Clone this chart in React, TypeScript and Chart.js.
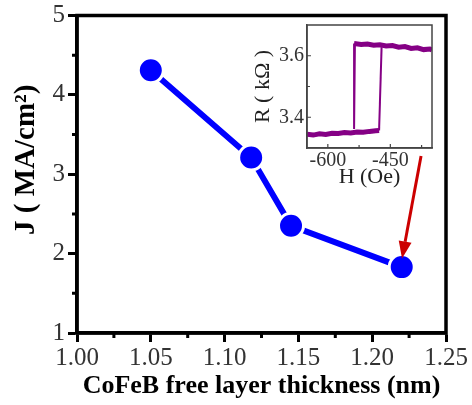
import React, { useEffect, useRef } from 'react';
import { Chart, registerables } from 'chart.js';

Chart.register(...registerables);

// ---- main chart data ----
const thickness = [1.05, 1.118, 1.145, 1.22];
const currentDensity = [4.31, 3.21, 2.35, 1.83];
const xTickValues = [1.0, 1.05, 1.1, 1.15, 1.2, 1.25];
const xMinorValues = [1.025, 1.075, 1.125, 1.175, 1.225];
const yTickValues = [1, 2, 3, 4, 5];
const yMinorValues = [1.5, 2.5, 3.5, 4.5];
const arrowFrom = [1.2331, 3.23];
const arrowTo = [1.2202, 1.94];

// ---- inset (hysteresis loop) data ----
const lowBranchH = [-650, -635, -620, -605, -590, -575, -560, -545, -530, -515, -500, -485, -477];
const lowBranchR = [3.345, 3.342, 3.346, 3.344, 3.348, 3.347, 3.35, 3.349, 3.352, 3.351, 3.354, 3.356, 3.357];
const highBranchH = [-537, -520, -505, -490, -475, -460, -445, -430, -415, -400, -385, -370, -355, -350];
const highBranchR = [3.64, 3.637, 3.638, 3.634, 3.636, 3.632, 3.633, 3.628, 3.63, 3.624, 3.626, 3.62, 3.622, 3.619];
const switchUpH = [-477, -471];
const switchUpR = [3.357, 3.628];
const switchDownH = [-535, -537];
const switchDownR = [3.64, 3.362];
const insetXTicks = [-600, -450];
const insetXMinor = [-525, -375];
const insetYTicks = [3.4, 3.6];
const insetYMinor = [3.5];

const SERIF = "'Liberation Serif', 'DejaVu Serif', serif";
const PURPLE = '#850085';

const pts = (xs: number[], ys: number[]) => xs.map((x, i) => ({ x, y: ys[i] }));

const framePlugin = (color: string, width: number) => ({
  id: 'frame',
  afterDatasetsDraw(chart: any) {
    const { ctx, chartArea: a } = chart;
    ctx.save();
    ctx.strokeStyle = color;
    ctx.lineWidth = width;
    ctx.strokeRect(a.left, a.top, a.right - a.left, a.bottom - a.top);
    ctx.restore();
  },
});

// minor ticks pointing outward (main chart)
const mainMinorTicks = {
  id: 'mainMinor',
  afterDatasetsDraw(chart: any) {
    const { ctx, chartArea: a, scales } = chart;
    ctx.save();
    ctx.strokeStyle = '#000';
    ctx.lineWidth = 3;
    ctx.beginPath();
    xMinorValues.forEach((v) => {
      const px = scales.x.getPixelForValue(v);
      ctx.moveTo(px, a.bottom);
      ctx.lineTo(px, a.bottom + 5);
    });
    yMinorValues.forEach((v) => {
      const py = scales.y.getPixelForValue(v);
      ctx.moveTo(a.left, py);
      ctx.lineTo(a.left - 5, py);
    });
    ctx.stroke();
    ctx.restore();
  },
};

const arrowPlugin = {
  id: 'arrow',
  afterDatasetsDraw(chart: any) {
    const { ctx, scales } = chart;
    const x0 = scales.x.getPixelForValue(arrowFrom[0]);
    const y0 = scales.y.getPixelForValue(arrowFrom[1]);
    const x1 = scales.x.getPixelForValue(arrowTo[0]);
    const y1 = scales.y.getPixelForValue(arrowTo[1]);
    const ang = Math.atan2(y1 - y0, x1 - x0);
    const headLen = 17;
    const headHalf = 6.5;
    const bx = x1 - headLen * Math.cos(ang);
    const by = y1 - headLen * Math.sin(ang);
    ctx.save();
    ctx.strokeStyle = '#cc0000';
    ctx.fillStyle = '#cc0000';
    ctx.lineWidth = 3;
    ctx.beginPath();
    ctx.moveTo(x0, y0);
    ctx.lineTo(bx, by);
    ctx.stroke();
    ctx.beginPath();
    ctx.moveTo(x1, y1);
    ctx.lineTo(bx + headHalf * Math.sin(ang), by - headHalf * Math.cos(ang));
    ctx.lineTo(bx - headHalf * Math.sin(ang), by + headHalf * Math.cos(ang));
    ctx.closePath();
    ctx.fill();
    ctx.restore();
  },
};

// inward ticks for the inset
const insetTicks = {
  id: 'insetTicks',
  afterDatasetsDraw(chart: any) {
    const { ctx, chartArea: a, scales } = chart;
    ctx.save();
    ctx.strokeStyle = '#444';
    ctx.lineWidth = 1.2;
    ctx.beginPath();
    const xt = (v: number, len: number) => {
      const px = scales.x.getPixelForValue(v);
      ctx.moveTo(px, a.bottom);
      ctx.lineTo(px, a.bottom - len);
    };
    const yt = (v: number, len: number) => {
      const py = scales.y.getPixelForValue(v);
      ctx.moveTo(a.left, py);
      ctx.lineTo(a.left + len, py);
    };
    insetXTicks.forEach((v) => xt(v, 4));
    insetXMinor.forEach((v) => xt(v, 3));
    insetYTicks.forEach((v) => yt(v, 4));
    insetYMinor.forEach((v) => yt(v, 3));
    ctx.stroke();
    ctx.restore();
  },
};

export default function App() {
  const mainRef = useRef<HTMLCanvasElement>(null);
  const insetRef = useRef<HTMLCanvasElement>(null);

  useEffect(() => {
    const main = new Chart(mainRef.current as HTMLCanvasElement, {
      type: 'line',
      data: {
        datasets: [
          {
            data: pts(thickness, currentDensity),
            borderColor: '#0000ff',
            backgroundColor: '#0000ff',
            borderWidth: 6,
            pointRadius: 12.5,
            pointBackgroundColor: '#0000ff',
            pointBorderColor: '#ffffff',
            pointBorderWidth: 3,
            tension: 0,
            clip: false as any,
          },
        ],
      },
      options: {
        animation: false,
        responsive: false,
        events: [],
        layout: { padding: { top: 14, right: 26, left: 0, bottom: 0 } },
        plugins: { legend: { display: false }, tooltip: { enabled: false } },
        scales: {
          x: {
            type: 'linear',
            min: 1.0,
            max: 1.25,
            afterBuildTicks: (s: any) => {
              s.ticks = xTickValues.map((v) => ({ value: v }));
            },
            afterFit: (s: any) => {
              s.height = 72;
            },
            ticks: {
              callback: (v: any) => Number(v).toFixed(2),
              font: { family: SERIF, size: 25 },
              color: '#333',
              padding: 1,
              maxRotation: 0,
              autoSkip: false,
            },
            grid: { drawOnChartArea: false, drawTicks: true, tickLength: 9, tickWidth: 3, tickColor: '#000' },
            border: { display: true, width: 3.5, color: '#000' },
            title: {
              display: true,
              text: 'CoFeB free layer thickness (nm)',
              font: { family: SERIF, size: 26, weight: 'bold' },
              color: '#000',
              padding: { top: 0, bottom: 3 },
            },
          },
          y: {
            type: 'linear',
            min: 1,
            max: 5,
            afterBuildTicks: (s: any) => {
              s.ticks = yTickValues.map((v) => ({ value: v }));
            },
            afterFit: (s: any) => {
              s.width = 77;
            },
            ticks: {
              callback: (v: any) => String(v),
              font: { family: SERIF, size: 25, lineHeight: 0.8 },
              color: '#333',
              padding: 3,
            },
            grid: { drawOnChartArea: false, drawTicks: true, tickLength: 9, tickWidth: 3, tickColor: '#000' },
            border: { display: true, width: 3.5, color: '#000' },
            title: {
              display: true,
              text: '    J ( MA/cm²)',
              font: { family: SERIF, size: 29, weight: 'bold' },
              color: '#000',
              padding: { top: 9, bottom: 0 },
            },
          },
        },
      },
      plugins: [framePlugin('#000', 3.5), mainMinorTicks, arrowPlugin],
    } as any);

    const lineDs = (xs: number[], ys: number[], w: number) => ({
      data: pts(xs, ys),
      borderColor: PURPLE,
      backgroundColor: PURPLE,
      borderWidth: w,
      pointRadius: 0,
      tension: 0,
    });

    const inset = new Chart(insetRef.current as HTMLCanvasElement, {
      type: 'line',
      data: {
        datasets: [
          lineDs(lowBranchH, lowBranchR, 5),
          lineDs(highBranchH, highBranchR, 5),
          lineDs(switchUpH, switchUpR, 2),
          lineDs(switchDownH, switchDownR, 2),
        ],
      },
      options: {
        animation: false,
        responsive: false,
        events: [],
        layout: { padding: { top: 14, right: 10, left: 0, bottom: 0 } },
        plugins: { legend: { display: false }, tooltip: { enabled: false } },
        scales: {
          x: {
            type: 'linear',
            min: -650,
            max: -350,
            afterBuildTicks: (s: any) => {
              s.ticks = insetXTicks.map((v) => ({ value: v }));
            },
            afterFit: (s: any) => {
              s.height = 44;
            },
            ticks: {
              callback: (v: any) => String(v),
              font: { family: SERIF, size: 20 },
              color: '#333',
              padding: 1,
              maxRotation: 0,
              autoSkip: false,
            },
            grid: { display: true, drawOnChartArea: false, drawTicks: false },
            border: { display: true, width: 1.5, color: '#444' },
            title: {
              display: true,
              text: 'H (Oe)',
              font: { family: SERIF, size: 22, lineHeight: 1 },
              color: '#222',
              padding: { top: 0, bottom: 4 },
            },
          },
          y: {
            type: 'linear',
            min: 3.3,
            max: 3.7,
            afterBuildTicks: (s: any) => {
              s.ticks = insetYTicks.map((v) => ({ value: v }));
            },
            afterFit: (s: any) => {
              s.width = 55;
            },
            ticks: {
              callback: (v: any) => Number(v).toFixed(1),
              font: { family: SERIF, size: 20, lineHeight: 1 },
              color: '#333',
              padding: 3,
            },
            grid: { display: true, drawOnChartArea: false, drawTicks: false },
            border: { display: true, width: 1.5, color: '#444' },
            title: {
              display: true,
              text: 'R ( kΩ )',
              font: { family: SERIF, size: 22, lineHeight: 1 },
              color: '#222',
              padding: { top: 0, bottom: 0 },
            },
          },
        },
      },
      plugins: [framePlugin('#444', 1.5), insetTicks],
    } as any);

    return () => {
      main.destroy();
      inset.destroy();
    };
  }, []);

  return (
    <div style={{ position: 'absolute', left: 0, top: 0, width: 472, height: 405, background: '#fff' }}>
      <canvas ref={mainRef} width={472} height={405} style={{ position: 'absolute', left: 0, top: 0, display: 'block' }} />
      <canvas ref={insetRef} width={190} height={181} style={{ position: 'absolute', left: 252, top: 11, display: 'block' }} />
    </div>
  );
}
